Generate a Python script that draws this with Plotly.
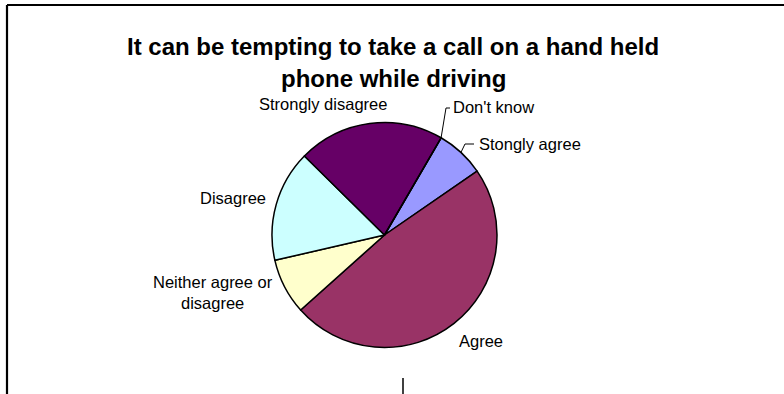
import math
import plotly.graph_objects as go

# Survey responses (% of respondents)
categories = ["Stongly agree", "Agree", "Neither agree or disagree",
              "Disagree", "Strongly disagree", "Don't know"]
values = [7, 48, 8, 16, 21, 0]
colors = ["#9999FF", "#993366", "#FFFFCC", "#CCFFFF", "#660066", "#FF8080"]
label_text = ["Stongly agree", "Agree", "Neither agree or<br>disagree",
              "Disagree", "Strongly disagree", "Don't know"]
title_lines = ["It can be tempting to take a call on a hand held",
               "phone while driving"]

W, H = 784, 394
CX, CY, R = 384.5, 235.0, 112.5   # pie centre / radius in pixels
ROTATION = 30.2                   # start angle of first slice, clockwise from 12 o'clock

FONT = "Liberation Sans, Arial, sans-serif"


def to_paper(x, y):
    return x / W, 1 - y / H


def edge_point(angle_deg, r=R):
    a = math.radians(angle_deg)
    return CX + r * math.sin(a), CY - r * math.cos(a)


# slice angles derived from the values
total = sum(values)
starts, ends = [], []
acc = ROTATION
for v in values:
    starts.append(acc)
    acc += 360 * v / total
    ends.append(acc)
mids = [(s + e) / 2 for s, e in zip(starts, ends)]

x0, y1 = to_paper(CX - R, CY - R)
x1, y0 = to_paper(CX + R, CY + R)

fig = go.Figure(go.Pie(
    labels=categories,
    values=values,
    sort=False,
    direction="clockwise",
    rotation=ROTATION,
    marker=dict(colors=colors, line=dict(color="black", width=1.5)),
    textinfo="none",
    hoverinfo="label+percent",
    showlegend=False,
    domain=dict(x=[x0, x1], y=[y0, y1]),
))

# label placement (pixel position of anchor, xanchor)
label_pos = {
    "Stongly agree": (477, 144, "left"),
    "Agree": (481, 341, "center"),
    "Neither agree or disagree": (213, 292.5, "center"),
    "Disagree": (268, 198, "right"),
    "Strongly disagree": (323, 104, "center"),
    "Don't know": (451, 107, "left"),
}

annotations = []
for cat, txt in zip(categories, label_text):
    lx, ly, xa = label_pos[cat]
    px_, py_ = to_paper(lx, ly)
    annotations.append(dict(
        x=px_, y=py_, xref="paper", yref="paper", text=txt,
        showarrow=False, xanchor=xa, yanchor="middle", align="center",
        font=dict(family=FONT, size=16.5, color="black"),
    ))

for i, (line, ty) in enumerate(zip(title_lines, [47, 78])):
    tx, tyy = to_paper(393, ty)
    annotations.append(dict(
        x=tx, y=tyy, xref="paper", yref="paper", text=f"<b>{line}</b>",
        showarrow=False, xanchor="center", yanchor="middle",
        font=dict(family=FONT, size=24, color="black"),
    ))

shapes = []


def seg(p, q, width=1.0):
    a = to_paper(*p)
    b = to_paper(*q)
    shapes.append(dict(type="line", xref="paper", yref="paper",
                       x0=a[0], y0=a[1], x1=b[0], y1=b[1],
                       line=dict(color="black", width=width)))


# leader lines for the two small slices
dk = categories.index("Don't know")
p_edge = edge_point(starts[dk])
lx, ly, _ = label_pos["Don't know"]
seg(p_edge, (lx - 5, ly + 1))
seg((lx - 5, ly + 1), (lx - 1, ly + 1))

sa = categories.index("Stongly agree")
p_edge = edge_point(mids[sa])
lx, ly, _ = label_pos["Stongly agree"]
seg(p_edge, (lx - 12, ly))
seg((lx - 12, ly), (lx - 3, ly))

# chart area frame (left and top edges visible)
seg((7, 5), (7, H), width=2.2)
seg((7, 5), (W, 5), width=2.2)
seg((403, 378), (403, H), width=1.5)

fig.update_layout(
    width=W, height=H,
    margin=dict(l=0, r=0, t=0, b=0),
    paper_bgcolor="white",
    plot_bgcolor="white",
    annotations=annotations,
    shapes=shapes,
)

fig.write_html("out.html")
